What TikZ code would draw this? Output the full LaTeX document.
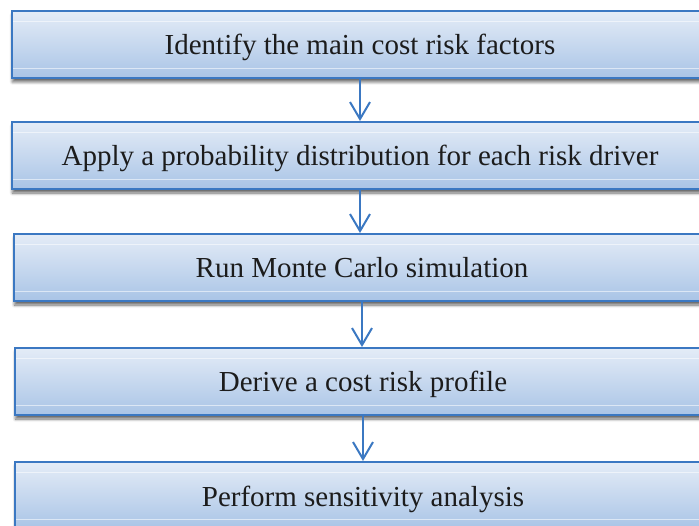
\documentclass[tikz,border=0pt]{standalone}
\usepackage{fontspec}
\setmainfont{Liberation Serif}
\usetikzlibrary{arrows.meta,shadows.blur}

\definecolor{edgeblue}{HTML}{3B78C2}
\definecolor{filltop}{HTML}{E4ECF7}
\definecolor{fillbot}{HTML}{A9C4E6}
\definecolor{inkdark}{HTML}{1C1C1C}

\tikzset{
  stepbox/.style={
    draw=edgeblue, line width=2pt,
    top color=filltop, bottom color=fillbot,
    minimum width=696pt, minimum height=67pt,
    inner sep=0pt, text=inkdark,
    text height=21pt, text depth=0pt,
    font=\fontsize{29}{34}\selectfont,
    blur shadow={shadow xshift=0.5pt, shadow yshift=-4pt,
                 shadow blur steps=6, shadow blur radius=3pt,
                 shadow opacity=60}
  },
  glint/.style={white, line width=0.8pt, opacity=0.55},
  flowarrow/.style={draw=edgeblue, line width=2pt,
    -{Straight Barb[length=17pt,width=20pt,line width=2pt]}}
}

\begin{document}
\begin{tikzpicture}[x=1pt,y=-1pt]
  \useasboundingbox (0,0) rectangle (699,526);

  \node[stepbox] (b1) at (360,44.5)  {Identify the main cost risk factors};
  \node[stepbox] (b2) at (360,155.5) {Apply a probability distribution for each risk driver};
  \node[stepbox] (b3) at (362,267.5) {Run Monte Carlo simulation};
  \node[stepbox] (b4) at (363,381.5) {Derive a cost risk profile};
  \node[stepbox] (b5) at (363,495.5) {Perform sensitivity analysis};

  % faint glassy highlight lines inside each box
  \foreach \b in {b1,b2,b3,b4,b5}{
    \draw[glint] ([xshift=2pt,yshift=-11pt]\b.north west) -- ([yshift=-11pt]\b.north east);
    \draw[glint] ([xshift=2pt,yshift=11pt]\b.south west) -- ([yshift=11pt]\b.south east);
  }

  % connectors between consecutive steps
  \draw[flowarrow] (b1.south) -- (b1.south |- b2.north);
  \draw[flowarrow] (b2.south) -- (b2.south |- b3.north);
  \draw[flowarrow] (b3.south) -- (b3.south |- b4.north);
  \draw[flowarrow] (b4.south) -- (b4.south |- b5.north);
\end{tikzpicture}
\end{document}
